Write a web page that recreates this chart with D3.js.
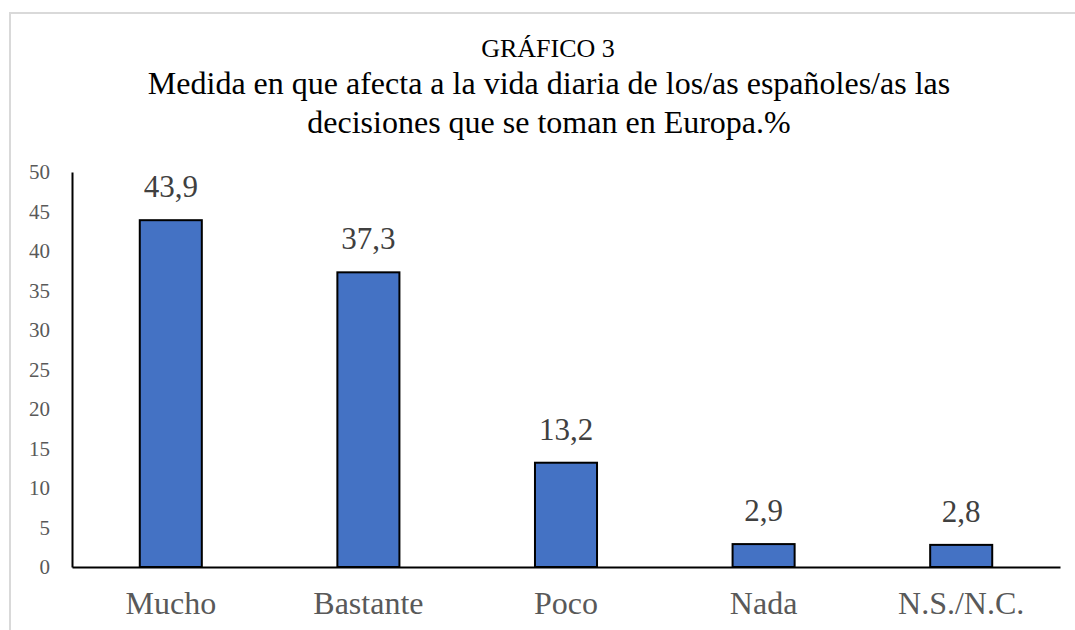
<!DOCTYPE html>
<html>
<head>
<meta charset="utf-8">
<script src="https://cdn.jsdelivr.net/npm/d3@7"></script>
<style>
  body { margin: 0; background: #fff; }
  svg text { font-family: "Liberation Serif", "Times New Roman", serif; }
</style>
</head>
<body>
<svg id="chart" width="1075" height="630"></svg>
<script>
// data
var categories = ["Mucho", "Bastante", "Poco", "Nada", "N.S./N.C."];
var values = [43.9, 37.3, 13.2, 2.9, 2.8];
var valueLabels = ["43,9", "37,3", "13,2", "2,9", "2,8"];
var yTicks = [0, 5, 10, 15, 20, 25, 30, 35, 40, 45, 50];
var titleLines = ["Medida en que afecta a la vida diaria de los/as españoles/as las",
                  "decisiones que se toman en Europa.%"];

var serif = "Liberation Serif";
var svg = d3.select("#chart");

// outer frame (only top and left edges show)
svg.append("rect")
    .attr("x", 10).attr("y", 13)
    .attr("width", 1100).attr("height", 700)
    .attr("fill", "none")
    .attr("stroke", "#d9d9d9")
    .attr("stroke-width", 2);

var plotLeft = 72, plotRight = 1060, plotTop = 172, plotBottom = 567;

var x = d3.scaleBand()
    .domain(categories)
    .range([plotLeft, plotRight])
    .paddingInner(0.686)
    .paddingOuter(0.343);

var y = d3.scaleLinear()
    .domain([0, 50])
    .range([plotBottom, plotTop]);

// titles
svg.append("text")
    .attr("x", 548).attr("y", 57)
    .attr("text-anchor", "middle")
    .attr("font-family", serif)
    .attr("font-size", 26)
    .attr("fill", "#000")
    .text("GRÁFICO 3");

svg.selectAll(".title")
    .data(titleLines)
  .enter().append("text")
    .attr("class", "title")
    .attr("x", 549)
    .attr("y", function(d, i) { return 94 + i * 39; })
    .attr("text-anchor", "middle")
    .attr("font-family", serif)
    .attr("font-size", 32)
    .attr("fill", "#000")
    .text(function(d) { return d; });

// y axis
var yAxis = svg.append("g")
    .attr("transform", "translate(" + plotLeft + ",0)")
    .call(d3.axisLeft(y).tickValues(yTicks).tickSize(0).tickPadding(22));
yAxis.select(".domain").attr("stroke", "#000").attr("stroke-width", 2);
yAxis.selectAll("text")
    .attr("font-family", serif)
    .attr("font-size", 21)
    .attr("fill", "#595959");

// bars
svg.selectAll(".bar")
    .data(values)
  .enter().append("rect")
    .attr("class", "bar")
    .attr("x", function(d, i) { return x(categories[i]); })
    .attr("y", function(d) { return y(d); })
    .attr("width", x.bandwidth())
    .attr("height", function(d) { return y(0) - y(d); })
    .attr("fill", "#4472c4")
    .attr("stroke", "#000")
    .attr("stroke-width", 2);

// value labels
svg.selectAll(".val")
    .data(values)
  .enter().append("text")
    .attr("class", "val")
    .attr("x", function(d, i) { return x(categories[i]) + x.bandwidth() / 2; })
    .attr("y", function(d) { return y(d) - 23; })
    .attr("text-anchor", "middle")
    .attr("font-family", serif)
    .attr("font-size", 31)
    .attr("fill", "#404040")
    .text(function(d, i) { return valueLabels[i]; });

// x axis
var xAxis = svg.append("g")
    .attr("transform", "translate(0," + plotBottom + ")")
    .call(d3.axisBottom(x).tickSize(0).tickPadding(24));
xAxis.select(".domain").attr("stroke", "#000").attr("stroke-width", 2);
xAxis.selectAll("text")
    .attr("font-family", serif)
    .attr("font-size", 32)
    .attr("fill", "#595959");
</script>
</body>
</html>
